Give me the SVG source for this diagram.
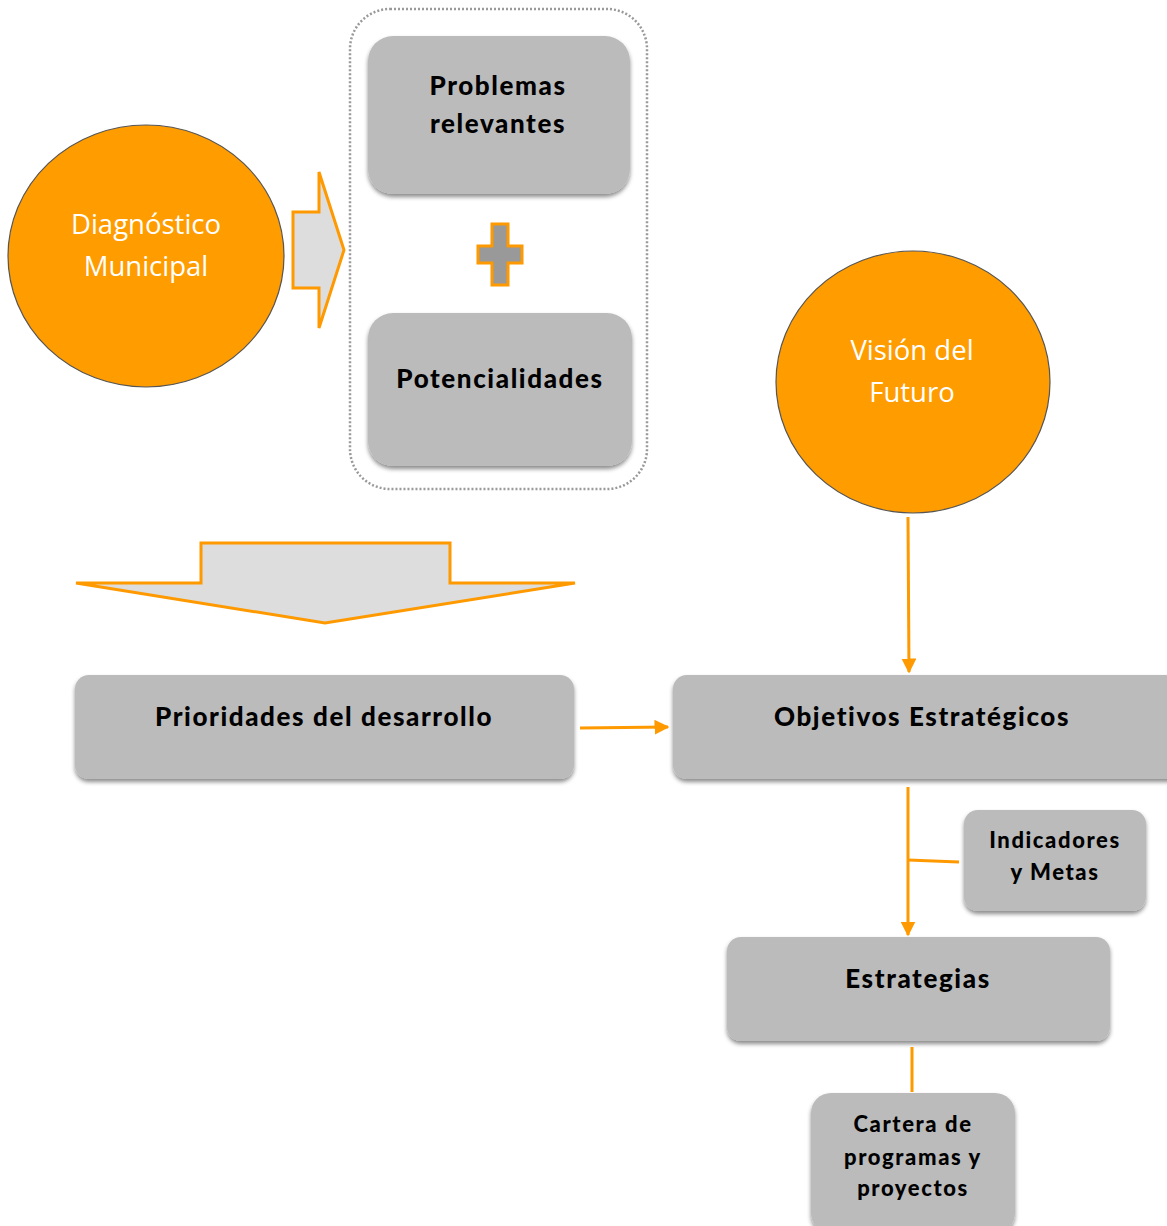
<svg xmlns="http://www.w3.org/2000/svg" width="1167" height="1226" viewBox="0 0 1167 1226">
<defs>
<filter id="sh" x="-10%" y="-10%" width="120%" height="130%">
<feDropShadow dx="0" dy="3" stdDeviation="2" flood-color="#000" flood-opacity="0.45"/>
</filter>
<marker id="ar" viewBox="0 0 10 10" refX="9" refY="5" markerWidth="5" markerHeight="5" orient="auto" markerUnits="strokeWidth">
<path d="M0,0 L10,5 L0,10 z" fill="#FF9900"/>
</marker>
</defs>
<style>
.box{fill:#BBBBBB;filter:url(#sh)}
.circ{fill:#FF9C00;stroke:#555;stroke-width:1.2}
.bt{font-family:"Lato","Liberation Sans",sans-serif;font-weight:900;fill:#000;text-anchor:middle;letter-spacing:1.6px}
.wt{font-family:"Open Sans","Liberation Sans",sans-serif;fill:#fff;text-anchor:middle;font-size:27.5px}
.ln{stroke:#FF9900;stroke-width:3;fill:none}
.big{fill:#DDDDDD;stroke:#FF9900;stroke-width:3}
</style>
<rect x="350" y="9" width="297" height="480" rx="40" fill="none" stroke="#999" stroke-width="2.5" stroke-dasharray="2 2"/>
<g id="diagnostico">
<ellipse class="circ" cx="146" cy="256" rx="138" ry="131"/>
<text class="wt" x="146" y="234">Diagnóstico</text>
<text class="wt" x="146" y="276">Municipal</text>
</g>
<g id="flecha-derecha">
<polygon class="big" points="293,212 319,212 319,172 344,250 319,328 319,288 293,288"/>
</g>
<g id="problemas">
<rect class="box" x="368" y="36" width="262" height="158" rx="25"/>
<text class="bt" x="498" y="95" font-size="26">Problemas</text>
<text class="bt" x="498" y="133" font-size="26">relevantes</text>
</g>
<g id="mas">
<path d="M492,224 H508 V246 H522 V263 H508 V285 H492 V263 H478 V246 H492 Z" fill="#999" stroke="#FF9900" stroke-width="3"/>
</g>
<g id="potencialidades">
<rect class="box" x="368" y="313" width="264" height="153" rx="25"/>
<text class="bt" x="500" y="388" font-size="26">Potencialidades</text>
</g>
<g id="vision">
<ellipse class="circ" cx="913" cy="382" rx="137" ry="131"/>
<text class="wt" x="912" y="360">Visión del</text>
<text class="wt" x="912" y="402">Futuro</text>
</g>
<g id="flecha-abajo">
<polygon class="big" points="201,543 450,543 450,583 575,583 325,623 76,583 201,583"/>
</g>
<g id="prioridades">
<rect class="box" x="75" y="675" width="499" height="104" rx="14"/>
<text class="bt" x="324" y="726" font-size="26">Prioridades del desarrollo</text>
</g>
<g id="objetivos">
<rect class="box" x="673" y="675" width="510" height="104" rx="14"/>
<text class="bt" x="922" y="726" font-size="26">Objetivos Estratégicos</text>
</g>
<g id="indicadores">
<rect class="box" x="964" y="810" width="182" height="101" rx="14"/>
<text class="bt" x="1055" y="848" font-size="22">Indicadores</text>
<text class="bt" x="1055" y="880" font-size="22">y Metas</text>
</g>
<g id="estrategias">
<rect class="box" x="727" y="937" width="383" height="104" rx="14"/>
<text class="bt" x="918" y="988" font-size="26">Estrategias</text>
</g>
<g id="cartera">
<rect class="box" x="811" y="1093" width="204" height="140" rx="20"/>
<text class="bt" x="913" y="1132" font-size="22">Cartera de</text>
<text class="bt" x="913" y="1165" font-size="22">programas y</text>
<text class="bt" x="913" y="1196" font-size="22">proyectos</text>
</g>
<g id="conectores">
<line class="ln" x1="908" y1="517" x2="909" y2="672" marker-end="url(#ar)"/>
<line class="ln" x1="580" y1="728" x2="668" y2="727" marker-end="url(#ar)"/>
<line class="ln" x1="908" y1="787" x2="908" y2="935" marker-end="url(#ar)"/>
<line class="ln" x1="908" y1="860" x2="959" y2="862"/>
<line class="ln" x1="912" y1="1047" x2="912" y2="1092"/>
</g>
</svg>
